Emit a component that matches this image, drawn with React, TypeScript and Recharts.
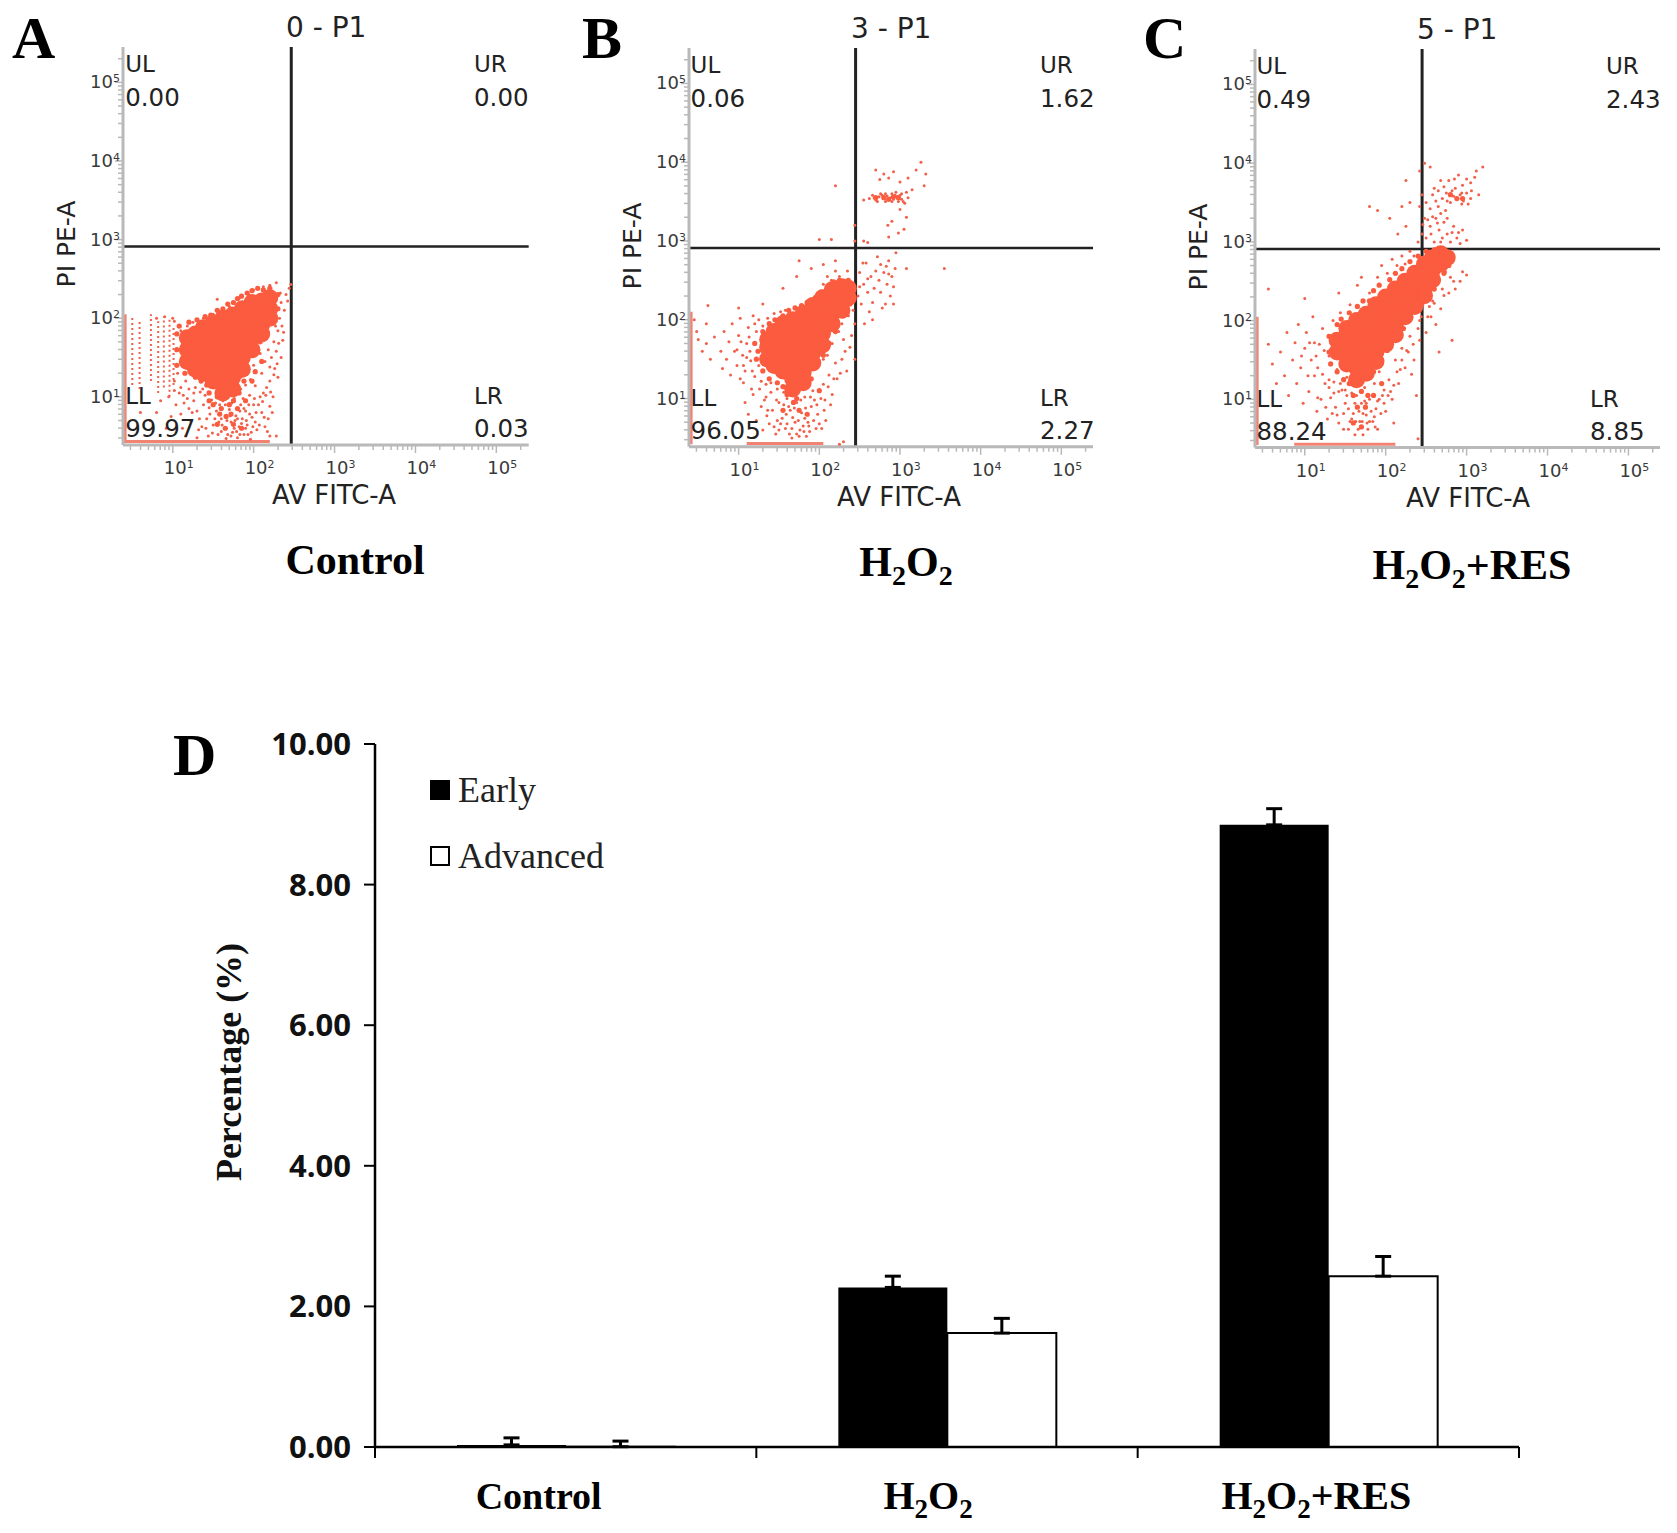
import {
  Bar,
  BarChart,
  ErrorBar,
  Legend,
  ReferenceLine,
  Scatter,
  ScatterChart,
  XAxis,
  YAxis,
} from 'recharts'

// flow panels: every pair is [log10 FITC, log10 PE]
const coreA = [[1.18,1.45],[1.18,1.6],[1.18,1.75],[1.28,1.35],[1.28,1.5],[1.28,1.65],[1.28,1.8],[1.38,1.3],[1.38,1.45],[1.38,1.6],[1.38,1.75],[1.38,1.88],[1.5,1.2],[1.5,1.36],[1.5,1.52],[1.5,1.68],[1.5,1.84],[1.5,1.94],[1.62,1.05],[1.62,1.2],[1.62,1.36],[1.62,1.52],[1.62,1.68],[1.62,1.84],[1.62,2.0],[1.74,1.1],[1.74,1.25],[1.74,1.4],[1.74,1.56],[1.74,1.72],[1.74,1.88],[1.74,2.04],[1.86,1.35],[1.86,1.5],[1.86,1.65],[1.86,1.8],[1.86,1.95],[1.86,2.12],[1.98,1.6],[1.98,1.75],[1.98,1.9],[1.98,2.05],[1.98,2.2],[2.1,1.8],[2.1,1.92],[2.1,2.05],[2.1,2.22],[2.2,2.0],[2.2,2.12],[2.2,2.26]]
const fringeA = [[1.05,1.4],[1.05,1.6],[1.05,1.8],[1.08,1.9],[1.15,1.3],[1.2,1.95],[1.28,1.25],[1.3,1.98],[1.35,1.2],[1.4,2.02],[1.42,1.15],[1.47,2.04],[1.45,1.05],[1.55,2.1],[1.55,1.0],[1.62,2.12],[1.6,0.85],[1.68,2.18],[1.7,0.9],[1.75,2.2],[1.75,0.95],[1.8,2.25],[1.82,1.05],[1.85,2.28],[1.88,1.2],[1.92,2.32],[1.92,1.35],[1.98,2.35],[2.0,1.55],[2.05,2.38],[2.08,1.7],[2.12,2.36],[2.15,1.85],[2.2,2.38],[2.22,1.95],[2.3,2.3],[2.3,2.12],[1.66,0.75],[1.72,0.78],[1.5,0.9],[1.45,0.95],[1.58,0.78],[1.8,0.85],[1.9,0.95],[1.98,1.2],[2.02,1.32],[2.1,1.45],[1.65,0.6],[1.85,0.6],[1.55,0.65],[1.75,0.65]]
const sparseA = [[1.02,1.2],[1.08,1.05],[1.14,0.92],[1.1,0.78],[1.2,1.1],[1.26,0.95],[1.22,0.7],[1.3,0.82],[1.34,1.06],[1.38,0.9],[1.32,0.58],[1.42,0.72],[1.44,0.5],[1.48,0.96],[1.5,0.64],[1.54,0.82],[1.56,0.52],[1.6,0.72],[1.62,0.95],[1.64,0.6],[1.66,0.47],[1.7,0.84],[1.72,0.68],[1.74,0.55],[1.76,0.98],[1.78,0.76],[1.8,0.48],[1.82,0.62],[1.84,0.9],[1.86,0.72],[1.88,0.52],[1.9,0.82],[1.92,0.64],[1.95,1.02],[1.96,0.46],[1.98,0.74],[2.0,0.9],[2.02,1.14],[2.04,0.58],[2.08,1.0],[2.1,0.8],[2.14,0.62],[2.16,1.12],[2.2,0.88],[2.2,0.5],[2.28,0.5],[2.26,1.36],[2.1,1.3],[2.14,1.45],[2.18,1.6],[2.2,1.2],[2.22,1.5],[2.25,1.7],[2.28,1.58],[2.3,1.84],[2.32,2.0],[2.35,1.9],[2.34,2.2],[2.38,2.1],[2.4,2.3],[2.42,2.22],[2.44,2.38],[2.46,2.43],[1.1,1.84],[1.18,1.9],[1.25,1.95],[1.32,1.82],[1.38,2.0],[1.45,1.88],[1.5,2.05],[1.56,1.92],[1.62,2.1],[1.58,2.02],[1.7,2.15],[1.76,2.08],[1.82,2.25],[1.88,2.18],[1.94,2.3],[2.0,2.36],[2.06,2.28],[2.12,2.4],[2.2,2.42],[2.28,2.45],[1.55,2.24],[1.0,2.0],[0.8,2.0],[0.9,2.02],[1.02,1.96],[1.02,1.08],[0.95,1.0],[0.85,0.95],[0.72,0.7],[0.6,0.8],[0.92,0.6],[1.12,0.6],[1.92,1.3],[2.0,1.4],[2.08,1.55],[1.9,1.15],[1.84,1.25],[1.84,1.1],[1.96,1.22],[1.16,1.2],[1.2,0.85],[1.26,1.05],[1.36,0.62],[1.4,1.02],[1.46,0.78],[1.52,0.72],[1.58,0.9],[1.6,0.56],[1.67,0.7],[1.72,0.5],[1.76,0.6],[1.8,0.72],[1.83,0.52],[1.88,0.85],[1.9,0.6],[1.94,0.9],[1.97,0.55],[2.02,0.68],[2.06,0.9],[2.12,1.05],[2.18,0.72],[2.24,1.0],[2.3,1.25],[2.34,1.5],[2.36,1.72],[2.27,1.9],[2.33,2.32],[2.2,1.38],[1.04,0.9],[0.98,0.75],[0.8,0.8],[1.16,0.5],[1.3,0.48]]
const dustA = [[1.06,1.3],[1.1,1.12],[1.13,1.02],[1.18,0.98],[1.24,0.8],[1.28,1.12],[1.33,0.72],[1.37,1.1],[1.41,0.6],[1.45,0.86],[1.49,0.54],[1.53,0.92],[1.57,0.68],[1.61,0.64],[1.65,0.9],[1.68,0.52],[1.71,0.76],[1.73,0.92],[1.77,0.7],[1.79,0.56],[1.83,0.82],[1.85,0.66],[1.87,0.98],[1.91,0.7],[1.93,0.52],[1.95,0.78],[1.99,0.62],[2.01,0.98],[2.03,0.8],[2.07,0.64],[2.11,0.94],[2.13,0.74],[2.15,1.02],[2.17,0.56],[2.21,1.06],[2.23,0.8],[2.25,1.28],[2.29,1.42],[2.31,1.68],[2.37,1.82]]
const columnsA = [[0.5,1.15,2.02],[0.59,1.1,1.98],[0.73,1.2,2.05],[0.82,1.05,1.96],[0.89,1.12,2.02],[0.96,1.0,1.98],[1.01,1.15,1.9]]

const coreB = [[1.36,1.65],[1.36,1.5],[1.36,1.75],[1.44,1.85],[1.44,1.7],[1.44,1.55],[1.44,1.42],[1.55,1.95],[1.55,1.8],[1.55,1.65],[1.55,1.5],[1.55,1.35],[1.67,2.0],[1.67,1.85],[1.67,1.7],[1.67,1.55],[1.67,1.4],[1.67,1.25],[1.67,1.12],[1.8,2.08],[1.8,1.93],[1.8,1.78],[1.8,1.63],[1.8,1.48],[1.8,1.33],[1.8,1.2],[1.92,2.18],[1.92,2.03],[1.92,1.88],[1.92,1.73],[1.92,1.58],[1.92,1.45],[2.04,2.28],[2.04,2.13],[2.04,1.98],[2.04,1.83],[2.04,1.68],[2.16,2.38],[2.16,2.23],[2.16,2.08],[2.16,1.95],[2.28,2.42],[2.28,2.27],[2.28,2.12],[2.36,2.4],[2.36,2.28]]
const fringeB = [[1.2,1.7],[1.22,1.5],[1.24,1.6],[1.3,1.85],[1.3,1.35],[1.38,1.95],[1.38,1.25],[1.45,2.0],[1.48,1.2],[1.55,2.05],[1.55,1.15],[1.62,2.12],[1.6,1.05],[1.7,2.15],[1.72,1.0],[1.78,2.18],[1.8,1.15],[1.85,2.22],[1.9,1.25],[1.95,2.28],[1.95,1.4],[2.02,2.35],[2.05,1.55],[2.1,2.42],[2.12,1.7],[2.18,2.48],[2.2,1.85],[2.25,2.5],[2.3,2.05],[2.32,2.48],[2.38,2.35],[2.38,2.2],[2.36,2.5],[1.68,0.95],[1.75,0.85],[1.55,0.85],[1.85,0.8],[2.0,1.1],[2.7,3.55],[2.8,3.55],[2.86,3.53],[2.92,3.56],[2.98,3.55]]
const sparseB = [[0.78,1.6],[0.8,1.38],[0.82,1.85],[0.85,1.5],[0.88,1.72],[0.9,1.3],[0.92,1.95],[0.95,1.6],[0.98,1.42],[1.0,1.8],[1.02,2.02],[1.05,1.55],[1.08,1.35],[1.1,1.7],[1.12,1.9],[1.15,1.48],[1.18,2.05],[1.2,1.28],[1.22,1.85],[1.25,2.0],[1.28,1.22],[1.3,1.92],[1.34,1.18],[1.36,2.02],[1.4,1.2],[1.44,2.08],[1.48,1.12],[1.52,2.1],[1.58,2.12],[0.5,1.75],[0.55,1.6],[0.6,1.7],[0.65,1.5],[0.7,1.78],[0.45,2.0],[0.48,1.85],[0.6,1.95],[1.0,2.15],[1.3,2.2],[1.55,2.4],[0.62,2.18],[1.08,0.95],[1.12,0.8],[1.18,1.05],[1.22,0.72],[1.28,0.9],[1.34,1.02],[1.38,0.68],[1.42,0.85],[1.46,0.55],[1.5,0.95],[1.54,0.75],[1.58,0.62],[1.6,1.0],[1.64,0.85],[1.66,0.5],[1.7,0.7],[1.72,0.95],[1.76,0.6],[1.78,0.82],[1.82,1.02],[1.84,0.52],[1.86,0.7],[1.9,0.9],[1.92,1.1],[1.96,0.62],[1.98,0.8],[2.02,1.0],[2.05,1.18],[2.08,0.72],[2.12,1.3],[2.16,1.05],[1.6,0.68],[1.5,0.6],[1.72,0.55],[1.8,0.65],[2.3,0.45],[2.25,0.42],[2.1,1.55],[2.16,1.7],[2.2,1.45],[2.24,1.85],[2.28,1.95],[2.32,1.6],[2.36,2.05],[2.4,1.8],[2.44,1.5],[2.44,1.95],[1.95,1.4],[2.05,1.5],[2.05,2.45],[2.1,2.55],[2.15,2.5],[2.2,2.62],[2.25,2.55],[2.3,2.5],[2.35,2.62],[2.4,2.45],[2.05,2.7],[1.75,2.75],[1.72,2.55],[1.9,2.65],[2.2,2.75],[2.48,2.3],[2.5,2.6],[2.52,2.2],[2.55,2.45],[2.56,1.95],[2.58,2.72],[2.6,2.35],[2.62,2.1],[2.64,2.55],[2.66,2.0],[2.68,2.4],[2.72,2.8],[2.76,2.35],[2.8,2.6],[2.82,2.2],[2.84,2.45],[2.86,2.75],[2.88,2.3],[2.9,2.55],[2.92,2.42],[2.94,2.65],[2.76,2.7],[2.95,2.85],[3.08,2.65],[3.55,2.65],[2.78,2.15],[2.92,2.2],[2.55,3.52],[2.62,3.54],[2.68,3.55],[2.74,3.56],[2.8,3.54],[2.84,3.57],[2.88,3.55],[2.92,3.53],[2.96,3.56],[3.0,3.58],[3.04,3.5],[3.1,3.55],[2.82,3.5],[2.9,3.6],[3.06,3.48],[2.95,3.62],[2.75,3.78],[2.8,3.85],[2.86,3.8],[2.92,3.88],[2.7,3.9],[3.0,3.75],[3.1,3.8],[3.15,3.65],[3.2,3.9],[3.26,4.0],[3.32,3.85],[3.3,3.7],[2.85,3.2],[2.9,3.25],[2.86,3.05],[2.98,3.1],[3.08,3.3],[3.0,3.4],[3.05,3.15],[2.2,3.7],[2.44,3.0],[2.44,3.2],[2.15,3.02],[2.0,3.02],[2.55,3.0],[2.6,2.98],[2.7,3.52],[2.78,3.58],[2.86,3.52],[2.94,3.58],[3.02,3.53],[1.02,1.25],[1.06,1.2],[1.14,1.6],[1.16,1.12],[1.25,1.42],[1.3,0.6],[1.36,0.85],[1.48,0.72],[1.56,1.08],[1.62,0.9],[1.66,0.62],[1.74,0.72],[1.82,0.75],[1.88,0.58],[1.94,0.98],[2.0,0.68],[2.06,0.85],[2.14,0.92],[2.22,1.25],[2.28,1.5],[2.34,1.35]]
const dustB = [[0.98,1.62],[1.03,1.72],[1.06,1.42],[1.1,1.52],[1.13,1.78],[1.17,1.35],[1.2,1.95],[1.26,1.12],[1.32,0.98],[1.35,0.78],[1.4,1.08],[1.44,0.64],[1.47,0.98],[1.52,0.68],[1.56,0.92],[1.59,0.8],[1.63,0.55],[1.67,0.76],[1.69,0.88],[1.75,0.52],[1.77,0.98],[1.81,0.58],[1.83,0.88],[1.87,0.65],[1.89,1.02],[1.93,0.72],[1.97,0.92],[2.03,0.62],[2.07,0.98],[2.11,1.15],[2.18,1.25],[2.26,1.32],[2.3,1.75],[2.38,1.65],[2.42,2.12],[2.5,2.42],[2.54,2.72],[2.6,2.52],[2.66,2.22],[2.7,2.62],[2.74,2.5],[2.83,2.68],[2.86,2.58],[2.66,3.58],[2.72,3.5],[2.76,3.6],[2.82,3.6],[2.9,3.5],[2.98,3.5],[3.02,3.6],[3.08,3.62]]

const coreC = [[1.4,1.75],[1.4,1.6],[1.52,1.9],[1.52,1.75],[1.52,1.6],[1.52,1.45],[1.64,2.0],[1.64,1.85],[1.64,1.7],[1.64,1.55],[1.64,1.4],[1.64,1.25],[1.76,2.08],[1.76,1.93],[1.76,1.78],[1.76,1.63],[1.76,1.48],[1.76,1.33],[1.88,2.2],[1.88,2.05],[1.88,1.9],[1.88,1.75],[1.88,1.6],[1.88,1.48],[2.0,2.3],[2.0,2.15],[2.0,2.0],[2.0,1.85],[2.0,1.7],[2.12,2.4],[2.12,2.25],[2.12,2.1],[2.12,1.95],[2.12,1.82],[2.24,2.5],[2.24,2.35],[2.24,2.2],[2.24,2.05],[2.36,2.6],[2.36,2.45],[2.36,2.3],[2.36,2.18],[2.48,2.72],[2.48,2.57],[2.48,2.42],[2.48,2.32],[2.58,2.8],[2.58,2.65],[2.58,2.52],[2.68,2.85],[2.68,2.72],[2.76,2.8]]
const fringeC = [[1.3,1.8],[1.3,1.6],[1.32,1.45],[1.4,1.95],[1.4,1.35],[1.45,2.02],[1.48,1.25],[1.55,2.1],[1.55,1.2],[1.65,2.18],[1.6,1.05],[1.72,2.25],[1.7,1.1],[1.8,2.25],[1.78,1.05],[1.85,2.38],[1.85,1.35],[1.92,2.45],[1.95,1.5],[2.05,2.52],[2.02,1.62],[2.12,2.6],[2.12,1.75],[2.2,2.66],[2.22,1.9],[2.3,2.75],[2.3,2.05],[2.4,2.82],[2.4,2.15],[2.5,2.88],[2.5,2.25],[2.6,2.9],[2.6,2.4],[2.72,2.9],[2.72,2.6],[2.8,2.82],[2.78,2.7],[1.65,0.9],[1.75,0.9],[1.6,0.7],[1.7,0.65],[1.85,1.05],[1.95,1.2],[2.88,3.55],[2.95,3.55],[2.8,3.6]]
const sparseC = [[0.55,1.7],[0.6,1.45],[0.65,1.2],[0.7,1.6],[0.75,1.3],[0.78,1.85],[0.8,1.05],[0.85,1.5],[0.88,1.72],[0.9,1.2],[0.92,1.95],[0.95,1.4],[0.98,0.95],[1.0,1.65],[1.02,1.85],[1.05,1.1],[1.08,1.5],[1.1,2.05],[1.12,1.3],[1.15,0.85],[1.18,1.7],[1.2,1.0],[1.22,1.9],[1.25,1.2],[1.28,0.75],[1.3,1.55],[1.32,1.02],[1.35,2.0],[1.36,1.22],[1.38,0.9],[1.4,1.38],[1.42,0.7],[1.44,2.1],[1.46,1.12],[1.5,0.95],[1.52,1.28],[1.54,0.62],[1.56,2.2],[1.58,1.08],[1.6,0.82],[1.62,0.55],[1.64,1.05],[1.68,0.72],[1.7,0.95],[1.72,0.55],[1.74,1.15],[1.76,0.8],[1.78,0.62],[1.8,1.0],[1.84,0.72],[1.86,1.2],[1.88,0.88],[1.9,0.62],[1.92,1.35],[1.96,1.05],[2.0,0.85],[2.04,1.25],[2.08,1.0],[2.12,1.5],[2.16,1.2],[2.2,1.65],[2.24,1.4],[2.3,1.8],[2.35,1.5],[2.38,1.05],[2.1,0.7],[2.4,0.5],[0.55,2.4],[1.0,2.28],[1.42,2.35],[1.65,2.45],[1.8,2.35],[1.7,2.55],[1.9,2.55],[1.95,2.7],[2.02,2.6],[2.08,2.78],[2.14,2.7],[2.2,2.82],[2.24,2.72],[2.3,2.88],[2.35,2.82],[2.42,2.0],[2.46,2.2],[2.5,1.85],[2.52,2.05],[2.58,2.25],[2.62,1.95],[2.7,2.4],[2.66,1.6],[2.82,1.75],[2.86,2.4],[2.92,2.5],[2.95,2.62],[3.0,2.58],[2.8,2.55],[2.74,2.62],[2.4,3.0],[2.45,3.1],[2.5,3.05],[2.55,3.2],[2.6,3.0],[2.62,3.3],[2.66,3.15],[2.7,3.05],[2.72,3.25],[2.76,3.1],[2.8,3.0],[2.84,3.2],[2.88,3.05],[2.92,2.98],[2.48,3.3],[2.42,3.45],[2.5,3.5],[2.55,3.42],[2.45,3.6],[2.58,3.6],[2.65,3.45],[2.7,3.55],[2.75,3.62],[2.8,3.5],[2.84,3.58],[2.88,3.55],[2.92,3.6],[2.96,3.52],[3.0,3.62],[3.05,3.55],[2.65,3.65],[2.72,3.7],[2.78,3.78],[2.85,3.8],[2.9,3.85],[2.95,3.72],[3.0,3.8],[3.05,3.75],[3.1,3.82],[3.15,3.6],[3.12,3.9],[3.2,3.95],[2.3,3.5],[2.25,3.78],[2.42,3.9],[2.48,4.0],[2.55,3.95],[2.2,3.45],[2.25,3.2],[1.8,3.45],[1.9,3.4],[2.05,3.3],[2.15,3.1],[2.95,3.15],[3.0,3.02],[1.12,1.72],[1.16,1.4],[1.24,1.62],[1.3,1.15],[1.34,0.82],[1.42,1.1],[1.48,0.82],[1.52,1.05],[1.56,0.72],[1.62,0.95],[1.66,0.62],[1.72,0.82],[1.76,0.95],[1.8,0.72],[1.86,0.78],[1.92,1.0],[1.98,1.12],[2.06,1.1],[2.14,1.35],[2.2,1.5],[2.28,1.6],[2.32,1.32],[2.42,1.75],[2.56,2.05],[2.68,2.15],[2.78,2.35],[2.56,3.1],[2.68,3.0],[2.74,3.4],[2.62,3.52],[2.82,3.65],[2.94,3.48]]
const dustC = [[0.96,1.55],[1.04,1.3],[1.06,1.72],[1.14,1.55],[1.16,1.02],[1.22,1.32],[1.26,0.9],[1.3,1.25],[1.36,1.08],[1.4,0.8],[1.44,1.2],[1.48,0.62],[1.5,1.12],[1.54,0.88],[1.58,0.75],[1.63,0.72],[1.67,0.85],[1.71,0.72],[1.74,0.98],[1.77,0.7],[1.82,0.85],[1.87,0.65],[1.9,0.98],[1.94,0.82],[1.98,0.95],[2.03,1.05],[2.1,1.18],[2.18,1.38],[2.26,1.62],[2.34,1.7],[2.4,1.9],[2.44,2.05],[2.54,2.18],[2.6,2.22],[2.72,2.32],[2.84,2.5],[2.46,3.22],[2.52,3.28],[2.58,3.32],[2.64,3.24],[2.68,3.36],[2.76,3.3],[2.82,3.12],[2.9,3.12],[2.6,3.68],[2.68,3.78],[2.76,3.52],[2.86,3.68],[2.94,3.62],[3.02,3.48],[3.06,3.65]]

// bar panel
const categories = ['Control', 'H2O2', 'H2O2+RES']
const earlyValues = [0.03, 2.27, 8.85]
const advancedValues = [0.004, 1.62, 2.43]
const earlyErrors = [0.1, 0.16, 0.23]
const advancedErrors = [0.08, 0.21, 0.28]
const percentTicks = [0, 2, 4, 6, 8, 10]

const barData = categories.map((name, i) => ({
  name,
  early: earlyValues[i],
  advanced: advancedValues[i],
  earlyErr: [0, earlyErrors[i]],
  advancedErr: [0, advancedErrors[i]],
}))

const CORE_COLOR = '#FB5B3E'
const DOT_COLOR = '#F0604A'
const STREAK_COLOR = '#F28373'
const AXIS_GRAY = '#B9B9B9'
const SANS = '"DejaVu Sans", sans-serif'
const SERIF = '"Liberation Serif", serif'

const DECADES = [0, 1, 2, 3, 4, 5]
const MINORS = [0.301, 0.477, 0.602, 0.699, 0.778, 0.845, 0.903, 0.954]
const logTicks = DECADES.flatMap((d) => [d, ...MINORS.map((m) => d + m)]).filter((t) => t > 0.39 && t < 5.39)

const xDomain = [0.385, 5.4]
const yDomain = [0.387, 5.45]

const toPoints = (pairs: number[][]) => pairs.map(([x, y]) => ({ x, y }))

function XTick({ x, y, payload }: any) {
  const major = Number.isInteger(payload.value)
  return (
    <g>
      <line x1={x} x2={x} y1={y} y2={y + (major ? 8 : 5)} stroke={AXIS_GRAY} strokeWidth={1.5} />
      {major && (
        <text x={x - 9} y={y + 29} fontFamily={SANS} fontSize={18} fill="#3a3a3a">
          10
          <tspan dy={-6} fontSize={11}>{payload.value}</tspan>
        </text>
      )}
    </g>
  )
}

function YTick({ x, y, payload }: any) {
  const major = Number.isInteger(payload.value)
  return (
    <g>
      <line x1={x} x2={x - (major ? 8 : 5)} y1={y} y2={y} stroke={AXIS_GRAY} strokeWidth={1.5} />
      {major && (
        <text x={x - 3} y={y + 6} textAnchor="end" fontFamily={SANS} fontSize={18} fill="#3a3a3a">
          10
          <tspan dy={-6} fontSize={11}>{payload.value}</tspan>
        </text>
      )}
    </g>
  )
}

interface FlowPanelProps {
  left: number
  top: number
  width: number
  height: number
  core: number[][]
  fringe: number[][]
  sparse: number[][]
  gateX: number
  gateY: number
  leftStreak: number[]
  bottomStreak: number[]
  columns?: number[][]
}

function FlowPanel({ left, top, width, height, core, fringe, sparse, gateX, gateY, leftStreak, bottomStreak, columns = [] }: FlowPanelProps) {
  return (
    <div style={{ position: 'absolute', left: left - 60, top }}>
      <ScatterChart width={width + 60} height={height + 40} margin={{ top: 0, right: 0, bottom: 0, left: 0 }}>
        <XAxis
          type="number"
          dataKey="x"
          domain={xDomain}
          ticks={logTicks}
          interval={0}
          allowDataOverflow
          height={40}
          tickSize={0}
          tickMargin={0}
          tickLine={false}
          axisLine={{ stroke: AXIS_GRAY, strokeWidth: 3 }}
          tick={XTick}
        />
        <YAxis
          type="number"
          dataKey="y"
          domain={yDomain}
          ticks={logTicks}
          interval={0}
          allowDataOverflow
          width={60}
          tickSize={0}
          tickMargin={0}
          tickLine={false}
          axisLine={{ stroke: AXIS_GRAY, strokeWidth: 3 }}
          tick={YTick}
        />
        {columns.map(([c, y1, y2]) => (
          <ReferenceLine
            key={c}
            segment={[{ x: c, y: y1 }, { x: c, y: y2 }]}
            stroke={DOT_COLOR}
            strokeWidth={2}
            strokeDasharray="2 3"
          />
        ))}
        <ReferenceLine segment={[{ x: leftStreak[0], y: leftStreak[1] }, { x: leftStreak[0], y: leftStreak[2] }]} stroke={STREAK_COLOR} strokeWidth={4} />
        <ReferenceLine segment={[{ x: bottomStreak[0], y: bottomStreak[2] }, { x: bottomStreak[1], y: bottomStreak[2] }]} stroke={STREAK_COLOR} strokeWidth={3} />
        <Scatter
          data={toPoints(sparse)}
          isAnimationActive={false}
          shape={(p: any) => <circle cx={p.cx} cy={p.cy} r={1.5} fill={DOT_COLOR} />}
        />
        <Scatter
          data={toPoints(fringe)}
          isAnimationActive={false}
          shape={(p: any) => <circle cx={p.cx} cy={p.cy} r={2.6} fill={CORE_COLOR} />}
        />
        <Scatter
          data={toPoints(core)}
          isAnimationActive={false}
          shape={(p: any) => <circle cx={p.cx} cy={p.cy} r={8.5} fill={CORE_COLOR} />}
        />
        <ReferenceLine x={gateX} stroke="#222" strokeWidth={3} />
        <ReferenceLine y={gateY} stroke="#222" strokeWidth={2.5} />
      </ScatterChart>
    </div>
  )
}

function chemParts(text: string, subDrop: number, subSize: number) {
  const parts = text.split(/(2)/)
  return parts.map((part, i) => {
    const isSub = part === '2'
    const afterSub = i > 0 && parts[i - 1] === '2'
    return (
      <tspan key={i} dy={isSub ? subDrop : afterSub ? -subDrop : 0} fontSize={isSub ? subSize : undefined}>
        {part}
      </tspan>
    )
  })
}

const CATEGORY_BAND = 1144 / 3
const categoryShift = [-27, -19, -12]
const categorySize = [38, 40, 40]

function CategoryTick({ x, y, payload, index }: any) {
  return (
    <g>
      <line x1={x - CATEGORY_BAND / 2} x2={x - CATEGORY_BAND / 2} y1={y} y2={y + 11} stroke="#000" strokeWidth={2} />
      {index === categories.length - 1 && (
        <line x1={x + CATEGORY_BAND / 2} x2={x + CATEGORY_BAND / 2} y1={y} y2={y + 11} stroke="#000" strokeWidth={2} />
      )}
      <text x={x + categoryShift[index]} y={y + 62} textAnchor="middle" fontFamily={SERIF} fontWeight="bold" fontSize={categorySize[index]} fill="#000">
        {chemParts(payload.value, 9, 27)}
      </text>
    </g>
  )
}

function LegendBox({ payload }: any) {
  return (
    <div>
      {(payload ?? []).map((item: any) => (
        <div key={item.value} style={{ display: 'flex', alignItems: 'center', height: 66, fontFamily: SERIF, fontSize: 36, color: '#222' }}>
          <span
            style={{
              display: 'inline-block',
              boxSizing: 'border-box',
              width: 20,
              height: 20,
              marginRight: 8,
              background: item.value === 'Early' ? '#000' : '#fff',
              border: '2px solid #000',
            }}
          />
          {item.value}
        </div>
      ))}
    </div>
  )
}

function PercentBars() {
  return (
    <div style={{ position: 'absolute', left: 235, top: 704 }}>
      <BarChart
        width={1294}
        height={823}
        data={barData}
        barSize={109}
        barGap={0}
        margin={{ top: 40, right: 10, bottom: 0, left: 0 }}
      >
        <XAxis
          dataKey="name"
          height={80}
          interval={0}
          tickSize={0}
          tickMargin={0}
          tickLine={false}
          axisLine={{ stroke: '#000', strokeWidth: 2.5 }}
          tick={CategoryTick}
        />
        <YAxis
          domain={[0, 10]}
          ticks={percentTicks}
          width={140}
          tickSize={11}
          tickMargin={13}
          tickLine={{ stroke: '#000', strokeWidth: 2 }}
          axisLine={{ stroke: '#000', strokeWidth: 2.5 }}
          tickFormatter={(v: number) => v.toFixed(2)}
          tick={{ fontFamily: '"Open Sans", sans-serif', fontWeight: 700, fontSize: 31, fill: '#111' }}
        />
        <Legend
          layout="horizontal"
          align="center"
          verticalAlign="middle"
          itemSorter={null}
          content={LegendBox}
          wrapperStyle={{ position: 'absolute', left: 195, top: 53, width: 260 }}
        />
        <Bar dataKey="early" name="Early" fill="#000" isAnimationActive={false}>
          <ErrorBar dataKey="earlyErr" direction="y" width={8} stroke="#000" strokeWidth={3} isAnimationActive={false} />
        </Bar>
        <Bar dataKey="advanced" name="Advanced" fill="#fff" stroke="#000" strokeWidth={2} isAnimationActive={false}>
          <ErrorBar dataKey="advancedErr" direction="y" width={8} stroke="#000" strokeWidth={3} isAnimationActive={false} />
        </Bar>
      </BarChart>
    </div>
  )
}

const flowTexts = [
  { left: 123.2, top: 46.7, bottom: 444.8, run: '0 - P1', runX: 286, runY: 37, ur: 474, lr: 474, labelX: 334, ul: '0.00', urv: '0.00', ll: '99.97', lrv: '0.03', ploty: 244, title: 'Control', titleX: 355, titleY: 574 },
  { left: 688.6, top: 48, bottom: 446.8, run: '3 - P1', runX: 851, runY: 38, ur: 1040, lr: 1040, labelX: 899, ul: '0.06', urv: '1.62', ll: '96.05', lrv: '2.27', ploty: 246, title: 'H2O2', titleX: 906, titleY: 576 },
  { left: 1254.5, top: 49, bottom: 447.6, run: '5 - P1', runX: 1417, runY: 39, ur: 1606, lr: 1590, labelX: 1468, ul: '0.49', urv: '2.43', ll: '88.24', lrv: '8.85', ploty: 247, title: 'H2O2+RES', titleX: 1472, titleY: 579 },
]
const panelLetters = [
  { letter: 'A', x: 12, y: 58 },
  { letter: 'B', x: 582, y: 58 },
  { letter: 'C', x: 1143, y: 58 },
  { letter: 'D', x: 173, y: 775 },
]

function Annotations() {
  return (
    <svg width={1677} height={1533} style={{ position: 'absolute', left: 0, top: 0, pointerEvents: 'none' }}>
      {panelLetters.map((p) => (
        <text key={p.letter} x={p.x} y={p.y} fontFamily={SERIF} fontWeight="bold" fontSize={60} fill="#000">
          {p.letter}
        </text>
      ))}
      {flowTexts.map((t) => (
        <g key={t.run} fontFamily={SANS} fill="#222">
          <text x={t.runX} y={t.runY} fontSize={28}>{t.run}</text>
          <text x={t.left + 2} y={t.top + 25} fontSize={23}>UL</text>
          <text x={t.left + 2} y={t.top + 59} fontSize={24.5}>{t.ul}</text>
          <text x={t.ur} y={t.top + 25} fontSize={23}>UR</text>
          <text x={t.ur} y={t.top + 59} fontSize={24.5}>{t.urv}</text>
          <text x={t.left + 2} y={t.bottom - 41} fontSize={23}>LL</text>
          <text x={t.left + 2} y={t.bottom - 8} fontSize={24.5}>{t.ll}</text>
          <text x={t.lr} y={t.bottom - 41} fontSize={23}>LR</text>
          <text x={t.lr} y={t.bottom - 8} fontSize={24.5}>{t.lrv}</text>
          <text x={t.labelX} y={t.bottom + 59} textAnchor="middle" fontSize={26}>AV FITC-A</text>
          <text transform={`translate(${t.left - 48},${t.ploty}) rotate(-90)`} textAnchor="middle" fontSize={25}>PI PE-A</text>
          <text x={t.titleX} y={t.titleY} textAnchor="middle" fontFamily={SERIF} fontWeight="bold" fontSize={42} fill="#000">
            {chemParts(t.title, 9, 28)}
          </text>
        </g>
      ))}
      <text transform="translate(241,1062) rotate(-90)" textAnchor="middle" fontFamily={SERIF} fontWeight="bold" fontSize={36} fill="#111">
        Percentage (%)
      </text>
    </svg>
  )
}

export default function App() {
  return (
    <div style={{ position: 'absolute', left: 0, top: 0, width: 1677, height: 1533, background: '#fff' }}>
      <FlowPanel left={123.2} top={46.7} width={405.7} height={398} core={coreA} fringe={fringeA} sparse={[...sparseA, ...dustA]} gateX={2.465} gateY={2.912} leftStreak={[0.405, 0.42, 2.05]} bottomStreak={[0.39, 2.2, 0.43]} columns={columnsA} />
      <FlowPanel left={688.6} top={48} width={404.6} height={398.8} core={coreB} fringe={fringeB} sparse={[...sparseB, ...dustB]} gateX={2.45} gateY={2.91} leftStreak={[0.405, 0.42, 2.1]} bottomStreak={[1.1, 2.05, 0.43]} />
      <FlowPanel left={1254.5} top={49} width={405.8} height={398.6} core={coreC} fringe={fringeC} sparse={[...sparseC, ...dustC]} gateX={2.45} gateY={2.91} leftStreak={[0.405, 0.42, 2.05]} bottomStreak={[0.87, 2.12, 0.43]} />
      <PercentBars />
      <Annotations />
    </div>
  )
}
